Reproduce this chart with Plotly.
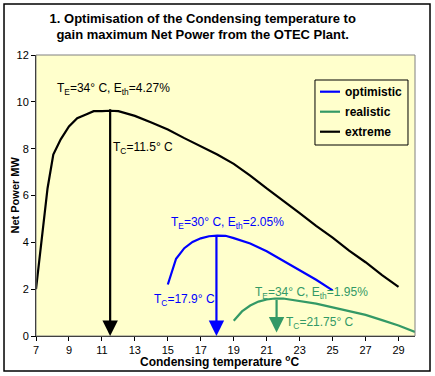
import plotly.graph_objects as go

# Data
ext_x = [7.0, 7.15, 7.7, 8.05, 8.5, 9.0, 9.5, 10.0, 10.5, 11.0, 11.5, 12.0, 13.0, 14.0, 15.0, 16.0, 17.0, 18.0,
         19.0, 20.0, 21.0, 22.0, 23.0, 24.0, 25.0, 26.0, 27.0, 28.0, 29.0]
ext_y = [2.0, 2.9, 6.3, 7.75, 8.4, 8.95, 9.3, 9.45, 9.6, 9.6, 9.62, 9.6, 9.4, 9.12, 8.82, 8.45, 8.1, 7.75,
         7.35, 6.85, 6.3, 5.78, 5.25, 4.7, 4.2, 3.65, 3.15, 2.6, 2.1]

opt_x = [15.0, 15.5, 16.0, 16.5, 17.0, 17.5, 18.0, 18.5, 19.0, 20.0, 21.0, 22.0, 23.0, 24.0, 25.0]
opt_y = [2.2, 3.3, 3.75, 4.02, 4.17, 4.26, 4.29, 4.28, 4.18, 3.95, 3.62, 3.22, 2.8, 2.4, 1.95]

real_x = [19.0, 19.5, 20.0, 20.5, 21.0, 21.5, 22.0, 23.0, 24.0, 25.0, 26.0, 27.0, 28.0, 29.0, 30.0]
real_y = [0.65, 1.05, 1.3, 1.47, 1.56, 1.6, 1.6, 1.5, 1.38, 1.22, 1.07, 0.9, 0.68, 0.45, 0.17]

series_names = ["optimistic", "realistic", "extreme"]
series_colors = ["#0000FF", "#339966", "#000000"]

# optimum markers: Tc position, top of arrow, bottom of arrow
opt_tc = [17.95, 21.6, 11.5]
opt_top = [4.29, 1.6, 9.75]
opt_bottom = [0.0, 0.15, 0.0]

x_ticks = [7, 9, 11, 13, 15, 17, 19, 21, 23, 25, 27, 29]
y_ticks = [0, 2, 4, 6, 8, 10, 12]

fig = go.Figure()
for name, xs, ys, col in zip(series_names, [opt_x, real_x, ext_x], [opt_y, real_y, ext_y], series_colors):
    fig.add_trace(go.Scatter(x=xs, y=ys, mode="lines", name=name, showlegend=False,
                             line=dict(color=col, width=2.2), hoverinfo="skip"))

font = "Liberation Sans, Arial, sans-serif"

# arrows
for tc, top, bot, col in zip(opt_tc, opt_top, opt_bottom, series_colors):
    fig.add_annotation(x=tc, y=bot, ax=tc, ay=top, xref="x", yref="y", axref="x", ayref="y",
                       showarrow=True, arrowhead=2, arrowsize=1.4, arrowwidth=2.2, arrowcolor=col, text="")

labels = [
    ("T<sub>E</sub>=34° C, E<sub>th</sub>=4.27%", 8.15, 10.53, "#000000"),
    ("T<sub>C</sub>=11.5° C", 11.55, 8.05, "#000000"),
    ("T<sub>E</sub>=30° C, E<sub>th</sub>=2.05%", 15.06, 4.83, "#0000FF"),
    ("T<sub>C</sub>=17.9° C", 14.03, 1.53, "#0000FF"),
    ("T<sub>E</sub>=34° C, E<sub>th</sub>=1.95%", 20.15, 1.83, "#339966"),
    ("T<sub>C</sub>=21.75° C", 22.03, 0.54, "#339966"),
]
for txt, lx, ly, col in labels:
    fig.add_annotation(x=lx, y=ly, xref="x", yref="y", text=txt, showarrow=False,
                       xanchor="left", yanchor="middle",
                       font=dict(family=font, size=12, color=col))

# axis titles
fig.add_annotation(x=-0.058, y=0.5, xref="paper", yref="paper", text="<b>Net Power MW</b>",
                   textangle=-90, showarrow=False, xanchor="center", yanchor="middle",
                   font=dict(family=font, size=11, color="#000000"))
fig.add_annotation(x=0.485, y=-0.0890, xref="paper", yref="paper",
                   text="<b>Condensing temperature <sup>o</sup>C</b>",
                   showarrow=False, xanchor="center", yanchor="middle",
                   font=dict(family=font, size=12, color="#000000"))

# plot area border and outer border
fig.add_shape(type="rect", xref="paper", yref="paper", x0=0, x1=1, y0=0, y1=1,
              line=dict(color="#808080", width=1), layer="above")
fig.add_shape(type="rect", xref="paper", yref="paper", x0=-0.0844, x1=1.0396, y0=-0.1246, y1=1.1815,
              line=dict(color="#000000", width=1.5), layer="above")

# legend box (drawn manually for compact Excel-like look)
fig.add_shape(type="rect", xref="paper", yref="paper", x0=0.7361, x1=0.9815, y0=0.6797, y1=0.911,
              line=dict(color="#000000", width=1), fillcolor="#FFFFCC", layer="above")
legend_rows = [0.8694, 0.7982, 0.7270]
for name, col, ry in zip(series_names, series_colors, legend_rows):
    fig.add_shape(type="line", xref="paper", yref="paper", x0=0.7493, x1=0.8021, y0=ry, y1=ry,
                  line=dict(color=col, width=2.2), layer="above")
    fig.add_annotation(x=0.81, y=ry, xref="paper", yref="paper", text="<b>" + name + "</b>",
                       showarrow=False, xanchor="left", yanchor="middle",
                       font=dict(family=font, size=12, color="#000000"))

fig.update_layout(
    width=435, height=376,
    margin=dict(l=36, r=20, t=55, b=40),
    paper_bgcolor="#FFFFFF",
    plot_bgcolor="#FFFFCC",
    font=dict(family=font, size=11, color="#000000"),
    title=dict(text="<b>1. Optimisation of the Condensing temperature to<br>gain maximum Net Power from the OTEC Plant.</b>",
               x=0.466, xanchor="center", y=0.940, yanchor="middle",
               font=dict(family=font, size=13, color="#000000")),
    showlegend=False,
    xaxis=dict(range=[7, 30], tickvals=x_ticks, showgrid=False, zeroline=False, automargin=False,
               showline=True, linecolor="#000000", linewidth=1,
               ticks="outside", ticklen=4, tickcolor="#000000",
               tickfont=dict(family=font, size=11)),
    yaxis=dict(range=[0, 12], tickvals=y_ticks, showgrid=False, zeroline=False, automargin=False,
               showline=True, linecolor="#000000", linewidth=1,
               ticks="outside", ticklen=4, tickcolor="#000000",
               tickfont=dict(family=font, size=11), tickprefix="<b>", ticksuffix="</b>"),
)

fig.write_html("out.html", config={"displayModeBar": False},
               post_script="document.body.style.margin='0';")
